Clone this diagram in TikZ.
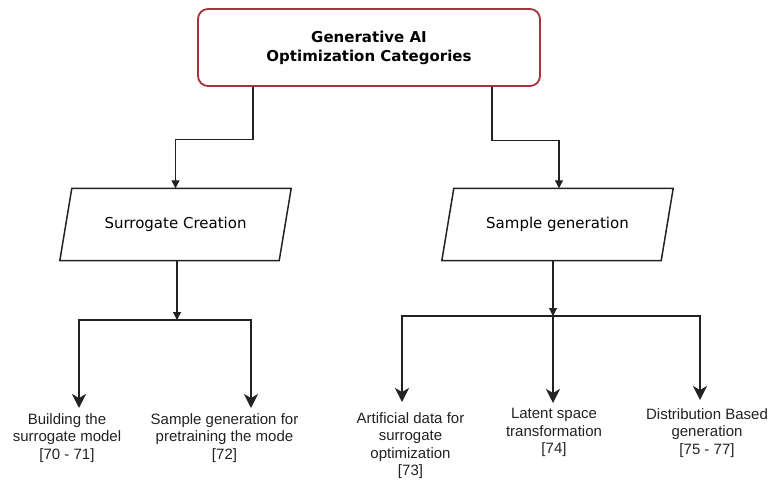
\documentclass[tikz,border=0pt]{standalone}
\usepackage{fontspec}
\setmainfont{DejaVu Sans}
\newfontfamily\arialfont{Liberation Sans}
\usetikzlibrary{arrows.meta,calc}
\definecolor{boxred}{RGB}{163,52,58}
\definecolor{inkgray}{RGB}{34,34,34}

\begin{document}
\begin{tikzpicture}[x=1pt,y=-1pt,
  catbox/.style={draw=boxred, line width=1.8pt, rounded corners=10pt,
    minimum width=342pt, minimum height=77pt, align=center, inner sep=0pt,
    font=\fontsize{15}{19}\selectfont\bfseries},
  parabox/.style={minimum width=219pt, minimum height=72pt, inner sep=0pt,
    font=\fontsize{15}{18}\selectfont},
  paraline/.style={draw=inkgray, line width=1.5pt, line join=miter},
  leaf/.style={anchor=north, align=center, inner sep=0pt, text=inkgray,
    font=\arialfont\fontsize{15}{17.5}\selectfont},
  link/.style={draw=inkgray, line width=1.1pt, -{Triangle[length=8pt,width=8pt]}},
  branch/.style={draw=inkgray, line width=2pt, -{Stealth[length=14pt,width=14pt,inset=4pt]}}
]
\useasboundingbox (0,0) rectangle (770,481);

% root category box
\node[catbox] (cat) at (369,47.5) {Generative AI\\Optimization Categories};

% the two parallelogram categories
\node[parabox] (sc) at (175.5,224.5) {Surrogate Creation};
\node[parabox] (sg) at (557.5,224.5) {Sample generation};
\foreach \n in {sc,sg}{
  \draw[paraline] ($(\n.north west)+(6,0)$) -- ($(\n.north east)+(6,0)$)
    -- ($(\n.south east)+(-6,0)$) -- ($(\n.south west)+(-6,0)$) -- cycle;
}

% root to categories
\draw[link] ([xshift=-116pt]cat.south) -- ++(0,53) -| (sc.north);
\draw[link] ([xshift=123pt]cat.south) -- ++(0,54) -| ([xshift=1.5pt]sg.north);

% branch junctions and arrow ends
\coordinate (jl) at (177,320);
\coordinate (jr) at (553,316);
\coordinate (t1) at (79,408);
\coordinate (t2) at (251,408);
\coordinate (t3) at (402,402);
\coordinate (t4) at (553,403);
\coordinate (t5) at (700,400);

\draw[link] (sc.south -| jl) -- (jl);
\draw[link] (sg.south -| jr) -- (jr);

\draw[branch] (jl) -| (t1);
\draw[branch] (jl) -| (t2);
\draw[branch] (jr) -| (t3);
\draw[branch] (jr) -- (t4);
\draw[branch] (jr) -| (t5);

% leaf labels
\node[leaf] (b1) at (67,413) {Building the\\surrogate model\\{}[70 - 71]};
\node[leaf] (b2) at (224.5,413) {Sample generation for\\pretraining the mode\\{}[72]};
\node[leaf] (b3) at (410.5,412) {Artificial data for\\surrogate\\optimization\\{}[73]};
\node[leaf] (b4) at (554,408) {Latent space\\transformation\\{}[74]};
\node[leaf] (b5) at (707,408) {Distribution Based\\generation\\{}[75 - 77]};
\end{tikzpicture}
\end{document}
